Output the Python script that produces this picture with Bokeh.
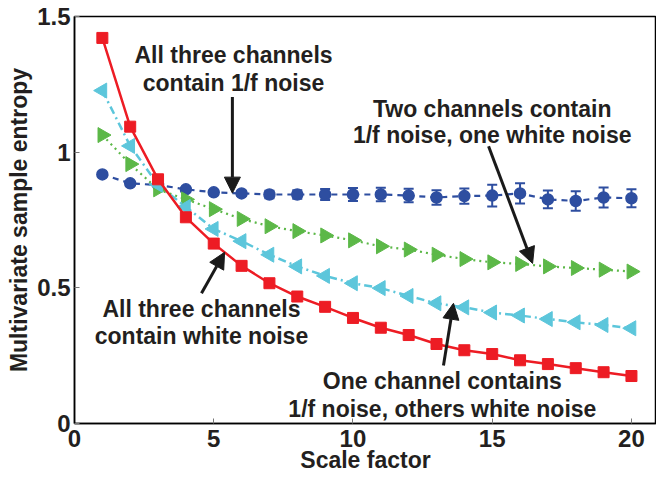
import numpy as np
from bokeh.plotting import figure
from bokeh.models import (ColumnDataSource, Whisker, TeeHead, Arrow, NormalHead,
                          Label, FixedTicker)
from bokeh.embed import file_html
from bokeh.resources import INLINE

# ---------------- data ----------------
scale = list(range(1, 21))
white_all = [1.421, 1.094, 0.900, 0.760, 0.663, 0.581, 0.517, 0.468, 0.430, 0.389,
             0.353, 0.326, 0.293, 0.270, 0.256, 0.233, 0.219, 0.204, 0.189, 0.175]
one_pink = [1.227, 1.023, 0.880, 0.798, 0.717, 0.672, 0.622, 0.579, 0.544, 0.517,
            0.499, 0.470, 0.443, 0.428, 0.409, 0.398, 0.385, 0.373, 0.363, 0.351]
two_pink = [1.063, 0.956, 0.863, 0.826, 0.790, 0.754, 0.727, 0.709, 0.693, 0.675,
            0.653, 0.641, 0.622, 0.606, 0.594, 0.588, 0.579, 0.573, 0.567, 0.560]
all_pink = [0.918, 0.885, 0.879, 0.863, 0.852, 0.848, 0.844, 0.844, 0.844, 0.844,
            0.844, 0.840, 0.833, 0.838, 0.840, 0.848, 0.826, 0.820, 0.833, 0.830]
all_pink_err = [0.005, 0.005, 0.005, 0.007, 0.008, 0.010, 0.014, 0.016, 0.020, 0.024,
                0.025, 0.025, 0.027, 0.028, 0.040, 0.037, 0.033, 0.036, 0.037, 0.033]

x_ticks = [0, 5, 10, 15, 20]
y_ticks = [0, 0.5, 1, 1.5]
y_tick_labels = {0: "0", 0.5: "0.5", 1: "1", 1.5: "1.5"}
x_title = "Scale factor"
y_title = "Multivariate sample entropy"

ann_lines = [
    ["All three channels", "contain 1/f noise"],
    ["Two channels contain", "1/f noise, one white noise"],
    ["All three channels", "contain white noise"],
    ["One channel contains", "1/f noise, others white noise"],
]
ann_pos = [(5.71, 1.358, 1.255), (15.0, 1.159, 1.063), (4.56, 0.421, 0.321), (13.21, 0.155, 0.055)]
arrows = [((5.67, 1.203), (5.67, 0.849)),
          ((14.87, 1.022), (16.45, 0.590)),
          ((4.56, 0.480), (5.39, 0.631)),
          ((13.25, 0.214), (13.61, 0.443))]

RED = "#ed1c24"
BLUE = "#2e4ea0"
CYAN = "#5cc6db"
GREEN = "#5cb848"
TXT = "#231f20"
FONT = "Liberation Sans"

W, H = 656, 477
p = figure(width=W, height=H, x_range=(0, 20.9), y_range=(0, 1.5),
           output_backend="svg", toolbar_location=None,
           min_border_left=74, min_border_right=0, min_border_top=16, min_border_bottom=54)
p.grid.visible = False
p.outline_line_color = "black"
p.outline_line_width = 1.5
p.background_fill_color = "white"
p.border_fill_color = "white"

for ax in (p.xaxis[0], p.yaxis[0]):
    ax.axis_line_width = 1.5
    ax.axis_line_color = "black"
    ax.major_tick_in = 5
    ax.major_tick_out = 0
    ax.minor_tick_line_color = None
    ax.major_tick_line_color = "#777777"
    ax.major_label_text_font = FONT
    ax.major_label_text_font_style = "bold"
    ax.major_label_text_font_size = "24px"
    ax.major_label_text_color = TXT
    ax.axis_label_text_font = FONT
    ax.axis_label_text_font_style = "bold"
    ax.axis_label_text_font_size = "23px"
    ax.axis_label_text_color = TXT

p.xaxis.ticker = FixedTicker(ticks=x_ticks)
p.yaxis.ticker = FixedTicker(ticks=y_ticks)
p.yaxis.major_label_overrides = y_tick_labels
p.xaxis.axis_label = x_title
p.yaxis.axis_label = y_title
p.xaxis.major_label_standoff = 6
p.xaxis.axis_label_standoff = -3
p.yaxis.major_label_standoff = 4
p.yaxis.axis_label_standoff = 2

# all three 1/f (blue, dashed, error bars)
src_b = ColumnDataSource(dict(x=scale, y=all_pink,
                              lo=[a - e for a, e in zip(all_pink, all_pink_err)],
                              hi=[a + e for a, e in zip(all_pink, all_pink_err)]))
p.line("x", "y", source=src_b, color=BLUE, line_width=2.2, line_dash="6 5")
w = Whisker(source=src_b, base="x", lower="lo", upper="hi", line_color=BLUE, line_width=2,
            upper_head=TeeHead(size=10, line_color=BLUE, line_width=2),
            lower_head=TeeHead(size=10, line_color=BLUE, line_width=2))
p.add_layout(w)
p.scatter("x", "y", source=src_b, marker="circle", size=11, fill_color=BLUE,
          line_color=BLUE, line_width=1.5)

# two pink, one white (green, dotted)
p.line(scale, two_pink, color=GREEN, line_width=2.2, line_dash="2 4")
p.scatter(scale, two_pink, marker="triangle", angle=-np.pi / 2, size=15,
          fill_color=GREEN, line_color=GREEN)

# one pink, others white (cyan, dash-dot)
p.line(scale, one_pink, color=CYAN, line_width=2.5, line_dash="8 4 2 4")
p.scatter(scale, one_pink, marker="triangle", angle=np.pi / 2, size=15,
          fill_color=CYAN, line_color=CYAN)

# all white (red, solid)
p.line(scale, white_all, color=RED, line_width=2.5)
p.scatter(scale, white_all, marker="square", size=11, fill_color=RED, line_color=RED)

# annotations
for lines, (cx, y1, y2) in zip(ann_lines, ann_pos):
    for t, yy in zip(lines, (y1, y2)):
        p.add_layout(Label(x=cx, y=yy, text=t, text_align="center", text_baseline="middle",
                           text_font=FONT, text_font_style="bold", text_font_size="23px",
                           text_color=TXT))

for (x0, y0), (x1, y1) in arrows:
    p.add_layout(Arrow(x_start=x0, y_start=y0, x_end=x1, y_end=y1, line_width=3,
                       line_color="#1a1a1a",
                       end=NormalHead(size=16, fill_color="#1a1a1a", line_color="#1a1a1a")))

open("out.html", "w").write(file_html(p, INLINE))
